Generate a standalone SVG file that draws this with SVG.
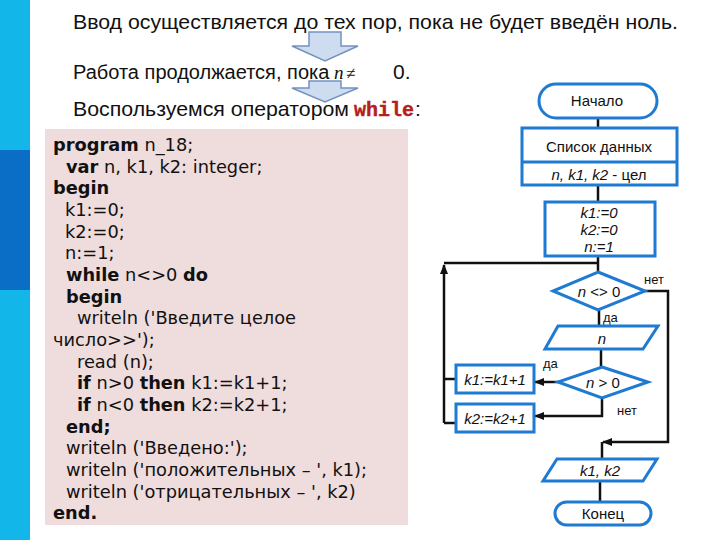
<svg xmlns="http://www.w3.org/2000/svg" width="720" height="540" viewBox="0 0 720 540">
<defs>
<style>
.hdr{font-family:"Liberation Sans",Arial,sans-serif;font-size:21px;fill:#111}
.code{font-family:"DejaVu Sans",Verdana,sans-serif;font-size:17.8px;fill:#111}
.b{font-weight:bold}
.fc{fill:#fff;stroke:#1f7bd2;stroke-width:3}
.ft{font-family:"Liberation Sans",Arial,sans-serif;font-size:15px;fill:#111;text-anchor:middle}
.it{font-style:italic}
.lbl{font-family:"Liberation Sans",Arial,sans-serif;font-size:13px;fill:#111}
.con{fill:none;stroke:#111;stroke-width:2.5}
.barrow{fill:#cddcef;stroke:#7492c0;stroke-width:1.5}
</style>
<marker id="ah" markerUnits="userSpaceOnUse" markerWidth="10" markerHeight="10" refX="9" refY="5" orient="auto">
<path d="M0,1 L10,5 L0,9 Z" fill="#111"/>
</marker>
</defs>
<rect x="0" y="0" width="720" height="540" fill="#fff"/>
<rect x="0" y="0" width="30" height="540" fill="#13b6e9"/>
<rect x="0" y="150" width="30" height="140" fill="#0a6dc6"/>

<g id="header">
<text class="hdr" x="73" y="29" textLength="605" lengthAdjust="spacingAndGlyphs">Ввод осуществляется до тех пор, пока не будет введён ноль.</text>
<text class="hdr" x="73" y="79" style="font-size:20px">Работа продолжается, пока</text>
<text x="334" y="79" style="font-family:'Liberation Serif',serif;font-size:19px;fill:#111"><tspan font-style="italic">n</tspan><tspan x="346" font-size="17">≠</tspan></text>
<text class="hdr" x="393" y="79">0.</text>
<text class="hdr" x="73" y="116" textLength="276" lengthAdjust="spacingAndGlyphs">Воспользуемся оператором</text>
<text x="354" y="116" style="font-family:'Liberation Mono',monospace;font-weight:bold;font-size:20px;fill:#b3201e;stroke:#b3201e;stroke-width:0.4" textLength="60" lengthAdjust="spacingAndGlyphs">while</text>
<text class="hdr" x="415" y="116">:</text>
</g>

<g id="arrow1"><path class="barrow" d="M309,32 L341,32 L341,46 L358,46 L325,61 L292,46 L309,46 Z"/></g>
<g id="arrow2"><path class="barrow" d="M309,81 L341,81 L341,88 L358,88 L325,102 L292,88 L309,88 Z"/></g>

<g id="code">
<rect x="45" y="129" width="363" height="396" fill="#efdcdc"/>
<text class="code" x="53" y="151"><tspan class="b">program</tspan> n_18;</text>
<text class="code" x="66" y="173"><tspan class="b">var</tspan> n, k1, k2: integer;</text>
<text class="code b" x="53" y="194">begin</text>
<text class="code" x="65" y="216">k1:=0;</text>
<text class="code" x="65" y="238">k2:=0;</text>
<text class="code" x="65" y="259">n:=1;</text>
<text class="code" x="66" y="281"><tspan class="b">while</tspan> n&lt;&gt;0 <tspan class="b">do</tspan></text>
<text class="code b" x="66" y="303">begin</text>
<text class="code" x="77" y="324">writeln ('Введите целое</text>
<text class="code" x="53" y="346">число&gt;&gt;');</text>
<text class="code" x="77" y="368">read (n);</text>
<text class="code" x="77" y="389"><tspan class="b">if</tspan> n&gt;0 <tspan class="b">then</tspan> k1:=k1+1;</text>
<text class="code" x="77" y="411"><tspan class="b">if</tspan> n&lt;0 <tspan class="b">then</tspan> k2:=k2+1;</text>
<text class="code b" x="66" y="433">end;</text>
<text class="code" x="66" y="454">writeln ('Введено:');</text>
<text class="code" x="66" y="476">writeln ('положительных – ', k1);</text>
<text class="code" x="66" y="498">writeln ('отрицательных – ', k2)</text>
<text class="code b" x="53" y="519">end.</text>
</g>

<g id="connectors">
<path class="con" d="M598,118 V127"/>
<path class="con" d="M598,185 V202"/>
<path class="con" d="M598,256 V272"/>
<path class="con" d="M598,263 H444"/>
<path class="con" d="M444,423 V265" marker-end="url(#ah)"/>
<path class="con" d="M456,379 H444"/>
<path class="con" d="M456,423 H444"/>
<path class="con" d="M599,310 V326"/>
<path class="con" d="M601,349 V367"/>
<path class="con" d="M558,382 H535" marker-end="url(#ah)"/>
<path class="con" d="M602,398 V416 H535" marker-end="url(#ah)"/>
<path class="con" d="M645,291 H668 V442 H603" marker-end="url(#ah)"/>
<path class="con" d="M602,442 V459"/>
<path class="con" d="M600,481 V502"/>
<text class="lbl" x="644" y="284">нет</text>
<text class="lbl" x="603" y="322">да</text>
<text class="lbl" x="543" y="368">да</text>
<text class="lbl" x="617" y="415">нет</text>
</g>

<g id="start">
<rect class="fc" x="539" y="84" width="118" height="34" rx="17"/>
<text class="ft" x="597" y="106">Начало</text>
</g>
<g id="data">
<rect class="fc" x="522" y="128" width="155" height="57"/>
<line x1="522" y1="162" x2="677" y2="162" stroke="#1f7bd2" stroke-width="3"/>
<text class="ft" x="599" y="152">Список данных</text>
<text class="ft" x="599" y="180"><tspan class="it">n, k1, k2</tspan> - цел</text>
</g>
<g id="init">
<rect class="fc" x="545" y="202" width="110" height="54"/>
<text class="ft it" x="599" y="218">k1:=0</text>
<text class="ft it" x="599" y="235">k2:=0</text>
<text class="ft it" x="599" y="252">n:=1</text>
</g>
<g id="cond1">
<path class="fc" d="M598,272 L645,291 L598,310 L553,291 Z"/>
<text class="ft" x="599" y="297"><tspan class="it">n</tspan> &lt;&gt; 0</text>
</g>
<g id="input">
<path class="fc" d="M558,326 L658,326 L643,349 L545,349 Z"/>
<text class="ft it" x="602" y="344">n</text>
</g>
<g id="cond2">
<path class="fc" d="M602,367 L648,382 L602,398 L558,382 Z"/>
<text class="ft" x="603" y="388"><tspan class="it">n</tspan> &gt; 0</text>
</g>
<g id="inc1">
<rect class="fc" x="456" y="365" width="78" height="28"/>
<text class="ft it" x="495" y="385">k1:=k1+1</text>
</g>
<g id="inc2">
<rect class="fc" x="456" y="404" width="78" height="28"/>
<text class="ft it" x="495" y="424">k2:=k2+1</text>
</g>
<g id="output">
<path class="fc" d="M557,459 L657,459 L643,481 L543,481 Z"/>
<text class="ft it" x="600" y="476">k1, k2</text>
</g>
<g id="end">
<rect class="fc" x="555" y="502" width="96" height="23" rx="11.5"/>
<text class="ft" x="603" y="519">Конец</text>
</g>
</svg>
